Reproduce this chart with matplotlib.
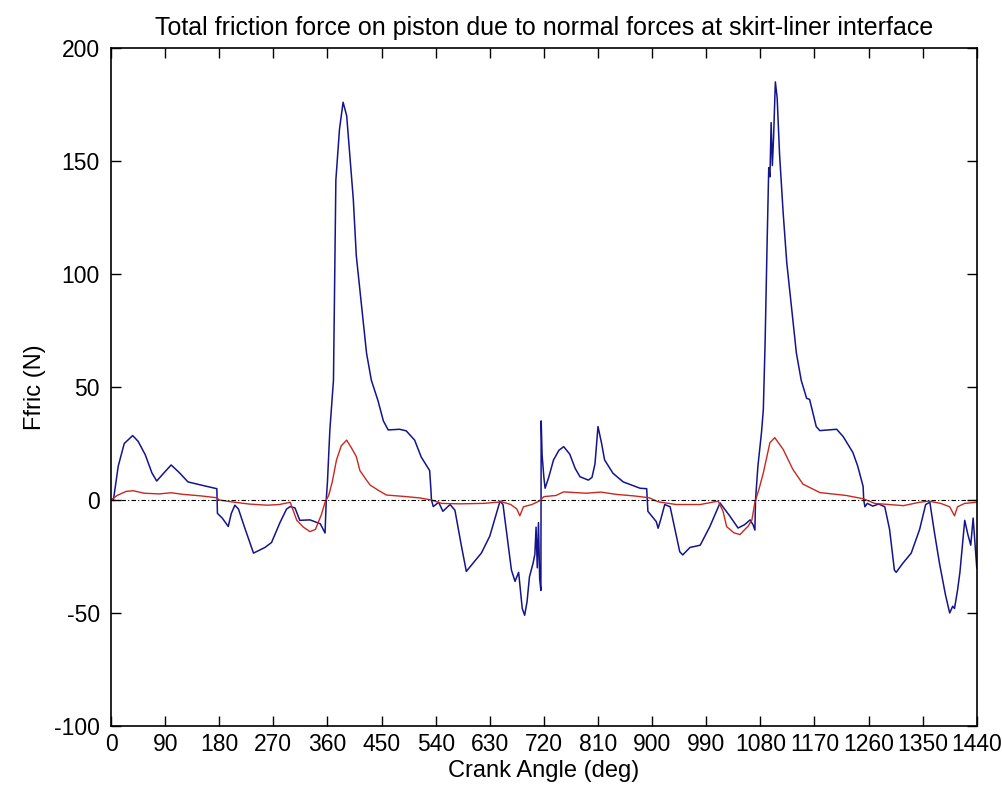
import matplotlib
matplotlib.use("Agg")
import matplotlib.pyplot as plt
from matplotlib import font_manager

# ---- data (crank angle in deg, friction force in N) ----
blue_deg = [0, 4, 12, 22, 36, 45, 57, 68, 76, 88, 100, 114, 128, 150, 173, 176, 177, 185, 195, 200,
            206, 212, 222, 237, 256, 267, 281, 292, 298, 306, 314, 331, 348, 356, 358, 360, 364, 370,
            374, 380, 386, 392, 397, 403, 408, 417, 425, 433, 444, 453, 461, 480, 491, 505, 516, 530,
            532, 533, 536, 545, 552, 564, 572, 583, 591, 602, 616, 630, 641, 647, 652, 661, 666, 672,
            678, 684, 688, 692, 696, 702, 705, 707, 709, 711, 713, 715, 715.5, 717, 720, 722, 728, 736,
            745, 753, 763, 772, 780, 794, 800, 805, 810, 812, 816, 821, 835, 852, 880, 891, 893, 907,
            910, 915, 921, 930, 946, 951, 963, 980, 996, 1013, 1029, 1043, 1054, 1063, 1068, 1071, 1072,
            1076, 1082, 1085, 1088, 1091, 1094, 1096, 1098, 1100, 1102, 1105, 1108, 1112, 1118, 1124,
            1132, 1140, 1148, 1157, 1162, 1173, 1179, 1207, 1218, 1234, 1242, 1251, 1252, 1254, 1258,
            1267, 1277, 1287, 1295, 1303, 1306, 1317, 1331, 1345, 1355, 1362, 1370, 1378, 1388, 1395,
            1400, 1403, 1408, 1412, 1420, 1425, 1430, 1434, 1440]
blue_val = [0, 0, 15, 25, 28.5, 26, 20, 12, 8.4, 12, 15.5, 12, 8, 6.6, 5.2, 5, -5.9, -8, -11.7, -6,
            -2.3, -4, -12, -23.5, -21, -18.8, -10, -4, -2.9, -3.5, -9, -8.8, -10.5, -14.6, 0, 8, 31, 53,
            141.6, 164, 176, 170, 153, 133, 108, 85, 65, 53, 44, 35, 31, 31.3, 30.6, 26.5, 19, 13,
            5, 0, -2.9, -1, -5, -2, -4.5, -20.6, -31.6, -28, -23.5, -16, -5.9, -0.5, -2, -20.6, -31, -36,
            -32, -48, -51, -45, -34, -28, -24, -12, -30, -10, -35, -40, 35, 20, 10, 5.2, 10, 17.7,
            22, 23.6, 20.3, 14, 10.3, 8.8, 10, 16, 32.5, 30, 25, 17.7, 11.8, 8, 5.2, 5, -5, -9.6,
            -12.5, -8, -2, -3, -22.9, -24.3, -21, -20, -11.8, -1.3, -7, -12.4, -10.9, -8.8, -11, -13.3, 0,
            15, 30, 40, 70, 110, 147, 143, 167, 148, 160, 185, 178, 153, 127, 105,
            85, 65, 53, 45, 44.5, 32.5, 30.7, 31.3, 28, 21, 15, 6, 0, -3, -1.5,
            -2.7, -1.8, -3, -13, -31, -32, -28, -23.5, -13, -2, -1, -15, -28, -42, -50,
            -47, -48, -40, -32, -9, -15, -20, -8, -30]

red_deg = [0, 10, 25, 37, 55, 80, 100, 120, 150, 176, 180, 200, 230, 260, 280, 298, 309, 320, 331, 340,
           350, 356, 362, 368, 375, 383, 392, 400, 408, 414, 425, 431, 444, 458, 491, 514, 533, 550, 580,
           620, 650, 665, 675, 680, 686, 700, 712, 720, 740, 753, 790, 815, 840, 870, 895, 910, 940, 980,
           1010, 1018, 1024, 1036, 1046, 1060, 1066, 1071, 1078, 1085, 1096, 1104, 1118, 1134, 1151,
           1179, 1223, 1252, 1270, 1318, 1345, 1360, 1380, 1395, 1403, 1408, 1420, 1440]
red_val = [0, 2, 3.8, 4.1, 3, 2.7, 3.2, 2.5, 1.8, 1, 0, -0.8, -1.8, -2.3, -2, -1, -9, -12, -14, -13,
           -6.4, -1, 2, 8, 17.7, 24, 26.5, 23, 19.2, 13, 8.8, 6.6, 4.4, 2.2, 1.5, 0.9, 0, -1.5, -1.7,
           -1.5, -0.8, -2, -4, -7, -3, -2, -0.5, 1.5, 2, 3.6, 3, 3.5, 2.5, 1.8, 1, -0.8, -2, -2,
           -0.5, -5, -11.8, -14.5, -15.3, -11.5, -8.8, -1, 5, 12, 25.4, 27.6, 22.4, 13.6, 7,
           3.3, 2, 0.5, -1.5, -2.5, -1, -0.5, -1.5, -3, -7, -3, -1.5, -1]

zero_deg = [0, 1440]
zero_val = [0, 0]

x_ticks = list(range(0, 1441, 90))
y_ticks = list(range(-100, 201, 50))

title = "Total friction force on piston due to normal forces at skirt-liner interface"
xlabel = "Crank Angle (deg)"
ylabel = "Ffric (N)"

# ---- fonts ----
avail = {f.name for f in font_manager.fontManager.ttflist}
fam = [f for f in ["Liberation Sans", "DejaVu Sans"] if f in avail]
plt.rcParams["font.family"] = fam
plt.rcParams["axes.unicode_minus"] = False

fig = plt.figure(figsize=(10.02, 8.0), dpi=100, facecolor="white")
ax = fig.add_axes([0.1108, 0.0925, 0.864, 0.8475])

ax.plot(blue_deg, blue_val, color="#14148c", lw=1.1)
ax.plot(red_deg, red_val, color="#c8281e", lw=1.0)
ax.plot(zero_deg, zero_val, color="black", lw=0.8, ls=(0, (4, 2, 1, 2)))

ax.set_xlim(0, 1440)
ax.set_ylim(-100, 200)
ax.set_xticks(x_ticks)
ax.set_yticks(y_ticks)
ax.tick_params(direction="in", length=7, width=1, top=True, right=True, labelsize=16.5, pad=5)
ax.tick_params(axis="y", pad=8)
for s in ax.spines.values():
    s.set_linewidth(1.2)

ax.set_title(title, fontsize=18, pad=9)
ax.set_xlabel(xlabel, fontsize=17, labelpad=3)
ax.set_ylabel(ylabel, fontsize=17, labelpad=6)

fig.savefig("out.png", dpi=100, facecolor="white")
